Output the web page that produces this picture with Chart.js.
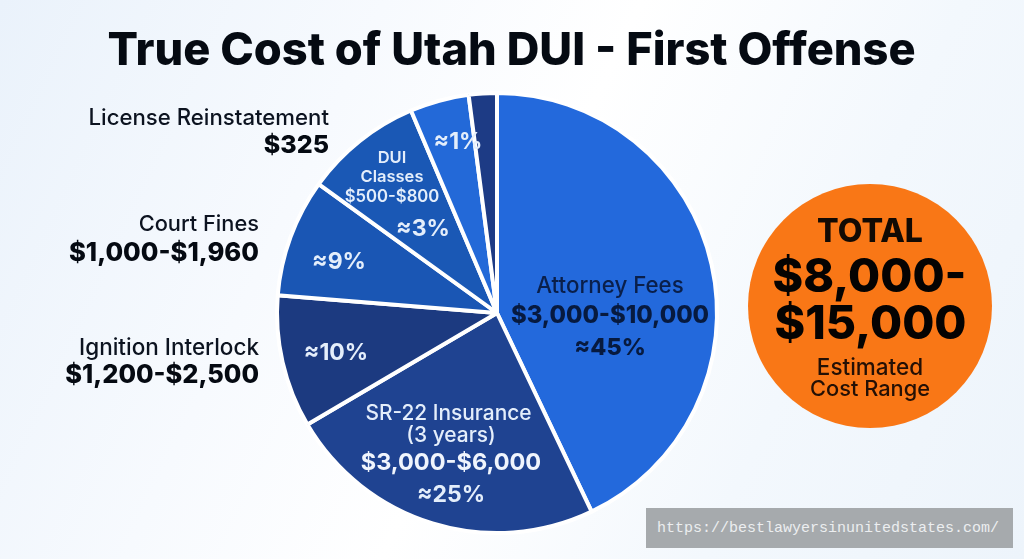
<!DOCTYPE html>
<html>
<head>
<meta charset="utf-8">
<title>True Cost of Utah DUI - First Offense</title>
<script src="https://cdn.jsdelivr.net/npm/chart.js@4"></script>
<style>
  html, body { margin: 0; padding: 0; }
  body {
    width: 1024px; height: 559px; position: relative; overflow: hidden;
    background: linear-gradient(115deg, #eaf2fb 0%, #f7fafe 30%, #ffffff 50%, #f3f8fd 75%, #edf4fb 100%);
    font-family: Inter, "Open Sans", sans-serif;
  }
  #wrap { position: absolute; left: 0; top: 0; width: 1024px; height: 559px; }
  .t { position: absolute; transform: translate(-50%, -50%); white-space: nowrap; text-align: center; }
  .r { position: absolute; transform: translate(-100%, -50%); white-space: nowrap; text-align: right; }
  #total {
    position: absolute; left: 748px; top: 184px; width: 244px; height: 244px;
    border-radius: 50%; background: #f97716;
  }
  #stamp {
    position: absolute; left: 646px; top: 508px; width: 367px; height: 40px;
    background: #a6aaad; color: #eceef0; line-height: 41px; padding-left: 11px; box-sizing: border-box;
    font-family: "Liberation Mono", monospace; font-size: 15px; white-space: nowrap;
  }
</style>
</head>
<body>
<div id="total"></div>
<div id="wrap"><canvas id="pie" width="1024" height="559"></canvas></div>
<div id="labels"></div>
<div id="stamp">https://bestlawyersinunitedstates.com/</div>
<script>
// slice data, clockwise from the top
const categories = ["Attorney Fees", "SR-22 Insurance (3 years)", "Ignition Interlock", "Court Fines", "DUI Classes", "License Reinstatement", "Other"];
const sliceValues = [42.9, 23.6, 9.75, 8.67, 8.64, 4.33, 2.06];
const sliceColors = ["#2369dc", "#1f4391", "#1c3a80", "#1a56b4", "#1a58b5", "#2369d8", "#1d3b85"];

// text placed on and around the pie: [text, x, y, size, weight, color, anchor]
const texts = [
  ["True Cost of Utah DUI - First Offense", 511.5, 48, 45.2, 800, "#050a12", "t"],
  ["License Reinstatement", 329, 116, 22.2, 500, "#0c1320", "r"],
  ["$325", 329, 144, 25, 800, "#050a12", "r"],
  ["Court Fines", 259, 223, 21.8, 500, "#0c1320", "r"],
  ["$1,000-$1,960", 259, 251, 25.6, 800, "#050a12", "r"],
  ["Ignition Interlock", 259, 346, 22.5, 500, "#0c1320", "r"],
  ["$1,200-$2,500", 259, 373, 25.4, 800, "#050a12", "r"],
  ["DUI", 392, 157, 16.5, 600, "#e4eefb", "t"],
  ["Classes", 392, 176, 16.5, 600, "#e4eefb", "t"],
  ["$500-$800", 392, 196, 16.7, 600, "#e4eefb", "t"],
  ["≈3%", 423, 228, 23, 700, "#e4eefb", "t"],
  ["≈1%", 458, 141, 23, 700, "#e4eefb", "t"],
  ["≈9%", 339, 261, 23, 700, "#e4eefb", "t"],
  ["≈10%", 336, 352, 23, 700, "#e4eefb", "t"],
  ["Attorney Fees", 610, 284, 22.3, 500, "#0a1f4a", "t"],
  ["$3,000-$10,000", 610, 314, 23.8, 800, "#071a3f", "t"],
  ["≈45%", 610, 346, 23.4, 800, "#071a3f", "t"],
  ["SR-22 Insurance", 448.5, 412, 20.9, 500, "#e4eefb", "t"],
  ["(3 years)", 451, 434, 20.9, 500, "#e4eefb", "t"],
  ["$3,000-$6,000", 451, 461, 23.5, 700, "#f0f5fd", "t"],
  ["≈25%", 451, 494, 23, 700, "#e4eefb", "t"],
  ["TOTAL", 870, 230, 32, 800, "#120a04", "t"],
  ["$8,000-", 869.5, 275, 46.5, 800, "#050302", "t"],
  ["$15,000", 870.5, 322, 46.5, 800, "#050302", "t"],
  ["Estimated", 870, 366, 22.5, 500, "#241005", "t"],
  ["Cost Range", 870, 388, 21.8, 500, "#241005", "t"]
];

const holder = document.getElementById("labels");
texts.forEach(([str, x, y, size, weight, color, cls]) => {
  const el = document.createElement("div");
  el.className = cls;
  el.textContent = str;
  el.style.cssText = `left:${x}px;top:${y}px;font-size:${size}px;font-weight:${weight};color:${color}`;
  holder.appendChild(el);
});

new Chart(document.getElementById("pie"), {
  type: "pie",
  data: {
    labels: categories,
    datasets: [{ data: sliceValues, backgroundColor: sliceColors, borderColor: "#ffffff", borderWidth: 4 }]
  },
  options: {
    responsive: false,
    animation: false,
    layout: { padding: { left: 275, right: 305, top: 91, bottom: 24 } },
    plugins: { legend: { display: false }, title: { display: false }, tooltip: { enabled: false } }
  }
});
</script>
</body>
</html>
